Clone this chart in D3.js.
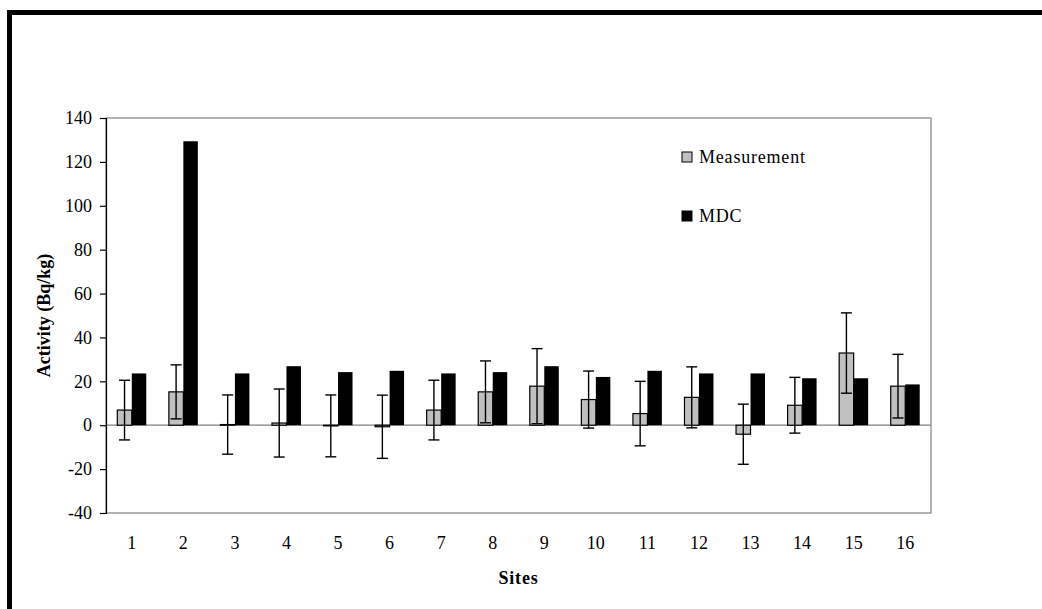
<!DOCTYPE html>
<html>
<head>
<meta charset="utf-8">
<script src="https://cdn.jsdelivr.net/npm/d3@7"></script>
<style>
  html, body { margin: 0; padding: 0; background: #fff; }
  svg { display: block; }
  svg text { font-family: "Times New Roman", "Liberation Serif", Tinos, "DejaVu Serif", serif !important; fill: #000; }
</style>
</head>
<body>
<svg id="chart" width="1042" height="609"></svg>
<script>
const sites = ["1","2","3","4","5","6","7","8","9","10","11","12","13","14","15","16"];
const measurement = [6.9, 15.2, 0.3, 1.0, -0.3, -0.7, 6.9, 15.2, 17.8, 11.7, 5.3, 12.7, -4.1, 9.1, 32.9, 17.8];
const uncertainty = [13.6, 12.3, 13.5, 15.5, 14.1, 14.4, 13.6, 14.1, 17.1, 13.0, 14.7, 13.9, 13.7, 12.7, 18.3, 14.5];
const mdc = [23.6, 129.4, 23.6, 26.9, 24.2, 24.8, 23.6, 24.2, 26.9, 22.0, 24.8, 23.6, 23.6, 21.4, 21.4, 18.6];
const seriesNames = ["Measurement", "MDC"];
const yTicks = [-40, -20, 0, 20, 40, 60, 80, 100, 120, 140];

const FONT = '"Times New Roman", "Liberation Serif", Tinos, "DejaVu Serif", serif';
const FS = 18;
const svg = d3.select("#chart").attr("font-family", FONT);
const L = 106, R = 931, T = 118, B = 513;

// outer frame
svg.append("rect").attr("x", 9.5).attr("y", 12.5).attr("width", 1100).attr("height", 700)
  .attr("fill", "none").attr("stroke", "#000").attr("stroke-width", 5);

const x = d3.scaleBand().domain(sites).range([L, R]).paddingInner(0).paddingOuter(0);
const xs = d3.scaleBand().domain(seriesNames).range([0, x.bandwidth()]).paddingInner(0).paddingOuter(0.78);
const y = d3.scaleLinear().domain([-40, 140]).range([B, T]);

// plot border
svg.append("rect").attr("x", L).attr("y", T).attr("width", R - L).attr("height", B - T)
  .attr("fill", "none").attr("stroke", "#808080").attr("stroke-width", 1.2);

// zero line
svg.append("line").attr("x1", L).attr("x2", R).attr("y1", y(0)).attr("y2", y(0))
  .attr("stroke", "#808080").attr("stroke-width", 1.2);

// y axis
const yAxis = svg.append("g").attr("transform", `translate(${L},0)`)
  .call(d3.axisLeft(y).tickValues(yTicks).tickSize(6).tickPadding(8).tickFormat((d) => String(d)));
yAxis.attr("font-family", FONT);
yAxis.select(".domain").attr("stroke", "#000").attr("stroke-width", 1.2);
yAxis.selectAll(".tick line").attr("stroke", "#000").attr("stroke-width", 1.2);
yAxis.selectAll("text").attr("font-size", FS).style("font-family", FONT);

// x axis labels
const xAxis = svg.append("g").attr("transform", `translate(0,${B})`)
  .call(d3.axisBottom(x).tickSize(0).tickPadding(23));
xAxis.attr("font-family", FONT);
xAxis.select(".domain").remove();
xAxis.selectAll("text").attr("font-size", FS).style("font-family", FONT);

// measurement bars
svg.append("g").selectAll("rect").data(sites).join("rect")
  .attr("x", (d) => x(d) + xs("Measurement"))
  .attr("width", xs.bandwidth())
  .attr("y", (d, i) => y(Math.max(0, measurement[i])))
  .attr("height", (d, i) => Math.abs(y(measurement[i]) - y(0)))
  .attr("fill", "#c0c0c0").attr("stroke", "#000").attr("stroke-width", 1.2);

// MDC bars
svg.append("g").selectAll("rect").data(sites).join("rect")
  .attr("x", (d) => x(d) + xs("MDC"))
  .attr("width", xs.bandwidth())
  .attr("y", (d, i) => y(Math.max(0, mdc[i])))
  .attr("height", (d, i) => Math.abs(y(mdc[i]) - y(0)))
  .attr("fill", "#000");

// error bars
const eb = svg.append("g").attr("stroke", "#000").attr("stroke-width", 1.4);
sites.forEach((s, i) => {
  const cx = x(s) + xs("Measurement") + xs.bandwidth() / 2;
  const top = y(measurement[i] + uncertainty[i]);
  const bot = y(measurement[i] - uncertainty[i]);
  eb.append("line").attr("x1", cx).attr("x2", cx).attr("y1", top).attr("y2", bot);
  eb.append("line").attr("x1", cx - 5.5).attr("x2", cx + 5.5).attr("y1", top).attr("y2", top);
  eb.append("line").attr("x1", cx - 5.5).attr("x2", cx + 5.5).attr("y1", bot).attr("y2", bot);
});

// legend
const legend = svg.append("g");
const legendFill = ["#c0c0c0", "#000"];
const legendY = [157, 216];
seriesNames.forEach((n, i) => {
  legend.append("rect").attr("x", 682).attr("y", legendY[i] - 5).attr("width", 10).attr("height", 10)
    .attr("fill", legendFill[i]).attr("stroke", "#000").attr("stroke-width", 1);
  legend.append("text").attr("x", 699).attr("y", legendY[i] + 6).attr("font-size", FS)
    .attr("letter-spacing", 0.8).style("font-family", FONT).text(n);
});

// axis titles
svg.append("text").attr("x", (L + R) / 2).attr("y", 584).attr("text-anchor", "middle")
  .attr("font-size", FS).attr("font-weight", "bold").attr("letter-spacing", 0.8)
  .style("font-family", FONT).text("Sites");
svg.append("text").attr("transform", `translate(50,${(T + B) / 2}) rotate(-90)`)
  .attr("text-anchor", "middle").attr("font-size", FS).attr("font-weight", "bold")
  .style("font-family", FONT).text("Activity (Bq/kg)");
</script>
</body>
</html>
